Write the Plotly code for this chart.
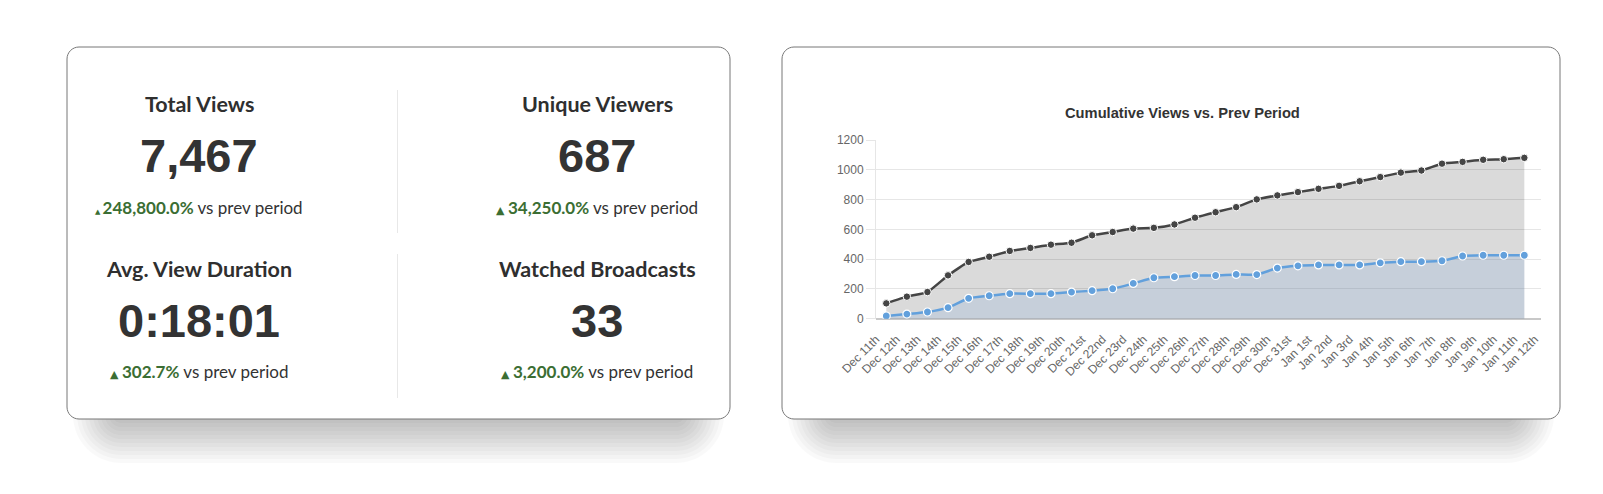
import plotly.graph_objects as go

W, H = 1603, 494

# ---------------- data ----------------
date_labels = ["Dec 11th", "Dec 12th", "Dec 13th", "Dec 14th", "Dec 15th", "Dec 16th", "Dec 17th",
               "Dec 18th", "Dec 19th", "Dec 20th", "Dec 21st", "Dec 22nd", "Dec 23rd", "Dec 24th",
               "Dec 25th", "Dec 26th", "Dec 27th", "Dec 28th", "Dec 29th", "Dec 30th", "Dec 31st",
               "Jan 1st", "Jan 2nd", "Jan 3rd", "Jan 4th", "Jan 5th", "Jan 6th", "Jan 7th",
               "Jan 8th", "Jan 9th", "Jan 10th", "Jan 11th", "Jan 12th"]

current_views = [103, 148, 179, 291, 381, 416, 455, 475, 497, 510, 560, 582, 605, 610, 633, 678,
                 715, 749, 801, 828, 850, 872, 892, 923, 951, 981, 995, 1041, 1053, 1067, 1071, 1080]
prev_views = [18, 31, 45, 74, 137, 154, 168, 168, 168, 179, 188, 201, 237, 275, 282, 290,
              290, 297, 296, 340, 355, 361, 361, 361, 375, 383, 383, 389, 421, 426, 426, 426]

kpi_titles = ["Total Views", "Unique Viewers", "Avg. View Duration", "Watched Broadcasts"]
kpi_values = ["7,467", "687", "0:18:01", "33"]
kpi_changes = ["248,800.0%", "34,250.0%", "302.7%", "3,200.0%"]

chart_title = "Cumulative Views vs. Prev Period"
y_ticks = [0, 200, 400, 600, 800, 1000, 1200]

# ---------------- helpers ----------------
def px(x):
    return x / W

def py(y):
    return 1 - y / H

def rounded_rect(x0, y0, x1, y1, r):
    k = 0.5523 * r
    pts = [
        f"M{px(x0 + r)},{py(y0)}",
        f"L{px(x1 - r)},{py(y0)}",
        f"C{px(x1 - r + k)},{py(y0)} {px(x1)},{py(y0 + r - k)} {px(x1)},{py(y0 + r)}",
        f"L{px(x1)},{py(y1 - r)}",
        f"C{px(x1)},{py(y1 - r + k)} {px(x1 - r + k)},{py(y1)} {px(x1 - r)},{py(y1)}",
        f"L{px(x0 + r)},{py(y1)}",
        f"C{px(x0 + r - k)},{py(y1)} {px(x0)},{py(y1 - r + k)} {px(x0)},{py(y1 - r)}",
        f"L{px(x0)},{py(y0 + r)}",
        f"C{px(x0)},{py(y0 + r - k)} {px(x0 + r - k)},{py(y0)} {px(x0 + r)},{py(y0)}",
        "Z",
    ]
    return " ".join(pts)

shapes = []
cards = [(67, 47, 730, 419), (782, 47, 1560, 419)]

# soft shadows below the cards
for (x0, y0, x1, y1) in cards:
    sx0, sy0, sx1, sy1 = x0 + 36, y0 + 30, x1 - 36, y1 + 14
    for e in range(-30, 31, 4):
        r = max(4, 18 + e)
        shapes.append(dict(type="path", xref="paper", yref="paper", layer="below",
                           path=rounded_rect(sx0 - e, sy0 - e, sx1 + e, sy1 + e, r),
                           fillcolor="rgba(0,0,0,0.022)", line=dict(width=0)))

# card bodies
for (x0, y0, x1, y1) in cards:
    shapes.append(dict(type="path", xref="paper", yref="paper", layer="below",
                       path=rounded_rect(x0, y0, x1, y1, 12),
                       fillcolor="white", line=dict(color="#777777", width=1)))

# dividers in KPI card
for (ya, yb) in [(90, 233), (254, 398)]:
    shapes.append(dict(type="line", xref="paper", yref="paper", layer="below",
                       x0=px(397.5), x1=px(397.5), y0=py(ya), y1=py(yb),
                       line=dict(color="#e8e8e8", width=1)))

# ---------------- annotations ----------------
annotations = []
kpi_font = "Lato, 'Open Sans', sans-serif"
num_font = "'Liberation Sans', Arial, sans-serif"
green = "#3b6e33"
centers = [(199, 104, 155, 207), (597, 104, 155, 207), (199, 269, 320, 371), (597, 269, 320, 371)]
for i, (cx, ty, vy, sy) in enumerate(centers):
    annotations.append(dict(xref="paper", yref="paper", x=px(cx), y=py(ty), showarrow=False,
                            xanchor="center", yanchor="middle",
                            text=f"<b>{kpi_titles[i]}</b>",
                            font=dict(family=kpi_font, size=21.5, color="#2f2f2f")))
    annotations.append(dict(xref="paper", yref="paper", x=px(cx), y=py(vy), showarrow=False,
                            xanchor="center", yanchor="middle",
                            text=f"<b>{kpi_values[i]}</b>",
                            font=dict(family=num_font, size=47, color="#333333")))
    tri_size = 7 if i == 0 else 11
    annotations.append(dict(xref="paper", yref="paper", x=px(cx), y=py(sy), showarrow=False,
                            xanchor="center", yanchor="middle",
                            text=(f"<span style='font-size:{tri_size}px;font-family:DejaVu Sans;color:{green}'>▲ </span>"
                                  f"<span style='color:{green}'><b>{kpi_changes[i]}</b></span> vs prev period"),
                            font=dict(family=kpi_font, size=17, color="#333333")))

annotations.append(dict(xref="paper", yref="paper", x=px(1182.5), y=py(113), showarrow=False,
                        xanchor="center", yanchor="middle", text=f"<b>{chart_title}</b>",
                        font=dict(family="'Liberation Sans', Arial, sans-serif", size=14.7, color="#333333")))

# ---------------- traces ----------------
x_pos = [i + 0.5 for i in range(len(current_views))]

fig = go.Figure()
fig.add_trace(go.Scatter(
    x=x_pos, y=current_views, mode="lines+markers", fill="tozeroy",
    fillcolor="rgba(0,0,0,0.145)",
    line=dict(color="#454545", width=2.5, shape="spline", smoothing=0.4),
    marker=dict(size=7.5, color="#454545", line=dict(color="white", width=1)),
    name="Current period", hoverinfo="skip"))
fig.add_trace(go.Scatter(
    x=x_pos, y=prev_views, mode="lines+markers", fill="tozeroy",
    fillcolor="rgba(140,175,220,0.25)",
    line=dict(color="#62a0dc", width=2.5, shape="spline", smoothing=0.4),
    marker=dict(size=8, color="#62a0dc", line=dict(color="white", width=1.2)),
    name="Previous period", hoverinfo="skip"))

fig.update_layout(
    width=W, height=H,
    margin=dict(l=0, r=0, t=0, b=0, autoexpand=False),
    paper_bgcolor="white", plot_bgcolor="rgba(0,0,0,0)",
    showlegend=False,
    shapes=shapes, annotations=annotations,
    xaxis=dict(domain=[px(876), px(1541)], range=[0, 32.31], automargin=False,
               tickvals=list(range(len(date_labels))), ticktext=date_labels,
               tickangle=-45, tickfont=dict(family="'Liberation Sans', Arial, sans-serif", size=12, color="#666666"),
               showgrid=False, zeroline=False, showline=False,
               ticks="outside", ticklen=8, tickcolor="rgba(0,0,0,0)"),
    yaxis=dict(domain=[py(318.7), py(140)], range=[0, 1200], tickvals=y_ticks, automargin=False,
               tickfont=dict(family="'Liberation Sans', Arial, sans-serif", size=12, color="#666666"),
               showgrid=True, gridcolor="#e6e6e6", gridwidth=1,
               ticks="outside", ticklen=9, tickcolor="#e6e6e6",
               showline=True, linecolor="#e6e6e6", linewidth=1,
               zeroline=True, zerolinecolor="#c8c8c8", zerolinewidth=2),
)

fig.write_html("out.html")
